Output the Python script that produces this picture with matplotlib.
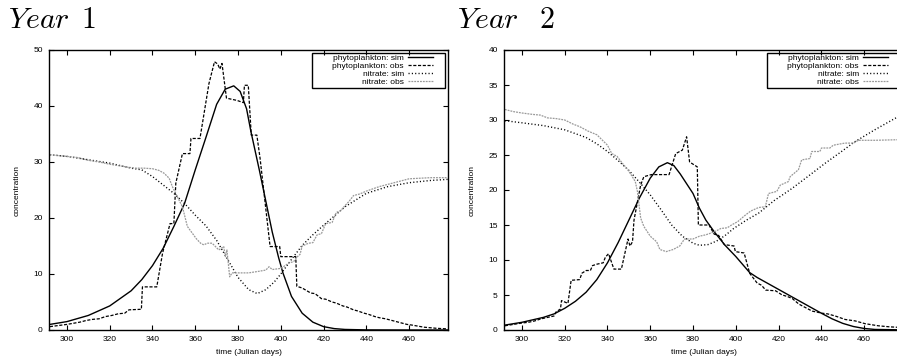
import matplotlib
matplotlib.use("Agg")
import matplotlib.pyplot as plt
from matplotlib.patches import Rectangle

plt.rcParams["font.family"] = ["Liberation Sans", "DejaVu Sans"]
plt.rcParams["mathtext.fontset"] = "cm"

# ---------------- Year 1 ----------------
p1_sim_day = [292, 300, 310, 320, 330, 335, 340, 345, 350, 355, 360, 365, 370, 374, 378,
              381, 384, 386, 390, 393, 396, 399, 401, 405, 410, 415, 420, 425, 430, 440, 460, 478]
p1_sim = [1.0, 1.5, 2.6, 4.3, 7.0, 9.0, 11.5, 14.6, 18.5, 22.6, 28.6, 34.4, 40.3, 43.0, 43.6,
          42.6, 39.5, 35.5, 28.5, 23.0, 17.5, 12.9, 10.2, 6.0, 3.0, 1.4, 0.6, 0.25, 0.1, 0.02, 0.0, 0.0]

p1_obs_day = [292, 296, 300, 303, 306, 309, 312, 315, 318, 321, 324, 327, 329, 334.8, 335.3,
              342, 344.7, 348.2, 350, 350.9, 354, 357.5, 358, 362.2, 366.4, 369, 370.5, 371.5,
              372.5, 374.6, 379.5, 382.5, 383, 384.8, 386.2, 388.8, 390.3, 395, 399.5, 400,
              407, 407.5, 410, 414, 416, 419, 421, 424, 426, 429, 431, 434, 436, 439, 441,
              444, 446, 449, 451, 454, 456, 459, 461, 464, 467, 470, 473, 478]
p1_obs = [0.6, 0.8, 1.0, 1.2, 1.4, 1.7, 1.9, 2.0, 2.4, 2.6, 2.9, 3.0, 3.6, 3.7, 7.7,
          7.7, 13.7, 19.0, 19.0, 26.2, 31.5, 31.5, 34.2, 34.2, 44.0, 47.9, 47.5, 46.6,
          47.6, 41.4, 41.0, 40.6, 43.7, 43.7, 34.8, 34.8, 30.7, 14.9, 14.9, 13.1,
          13.1, 7.8, 7.5, 6.6, 6.5, 5.6, 5.5, 5.0, 4.8, 4.3, 4.1, 3.6, 3.4, 3.0, 2.8,
          2.4, 2.2, 2.0, 1.8, 1.5, 1.3, 1.0, 0.9, 0.7, 0.5, 0.4, 0.3, 0.2]

n1_sim_day = [292, 300, 310, 320, 330, 335, 340, 345, 350, 355, 360, 365, 370, 375, 380,
              385, 389, 393, 397, 400, 405, 410, 415, 420, 430, 440, 450, 460, 470, 478]
n1_sim = [31.3, 31.0, 30.4, 29.8, 28.9, 28.6, 27.4, 25.9, 24.4, 22.6, 20.5, 18.6, 16.0, 12.7, 9.4,
          7.2, 6.5, 7.2, 8.6, 10.0, 12.6, 15.1, 17.0, 18.7, 22.0, 24.4, 25.6, 26.3, 26.7, 26.9]

n1_obs_day = [292, 300, 305, 310, 315, 320, 325, 328, 332, 336, 340, 343, 345.4, 347.8, 349.3,
              351.6, 354, 356.3, 358.6, 360.5, 362.5, 364, 365.6, 367.9, 371, 373.3, 374.1,
              374.8, 376.1, 377.2, 385, 390, 393, 394.5, 396, 400, 402, 404, 406, 407.5, 409,
              410, 413, 415, 417, 419, 421, 424, 426, 428, 430, 432, 434, 437, 440, 443, 446,
              450, 455, 460, 465, 470, 478]
n1_obs = [31.3, 31.0, 30.8, 30.3, 30.0, 29.6, 29.3, 29.1, 28.9, 28.9, 28.8, 28.5, 28.0, 27.1, 25.6,
          23.8, 22.0, 18.5, 17.3, 16.3, 15.5, 15.2, 15.5, 15.5, 14.3, 14.9, 13.1,
          14.3, 9.5, 10.2, 10.2, 10.5, 10.7, 11.3, 10.8, 11.0, 11.5, 12.0, 12.2, 13.0, 13.5,
          15.0, 15.5, 15.6, 17.0, 17.2, 19.0, 19.2, 21.0, 21.3, 22.2, 23.0, 24.0, 24.3, 24.8, 25.2, 25.6,
          26.0, 26.5, 27.0, 27.1, 27.2, 27.2]

# ---------------- Year 2 ----------------
p2_sim_day = [292, 300, 310, 315, 320, 325, 330, 335, 340, 345, 350, 355, 360, 364, 368, 371,
              374, 377, 380, 383, 386, 390, 395, 400, 406.5, 410, 420, 430, 440, 445, 450, 455,
              460, 465, 478]
p2_sim = [0.7, 1.1, 1.8, 2.3, 3.1, 4.1, 5.4, 7.2, 9.6, 12.5, 15.7, 18.9, 21.7, 23.3, 23.9, 23.5,
          22.3, 20.9, 19.5, 17.4, 15.7, 14.0, 12.1, 10.5, 8.2, 7.5, 5.8, 4.1, 2.4, 1.6, 0.95, 0.5,
          0.22, 0.08, 0.02]

p2_obs_day = [292, 296, 300, 303, 306, 309, 312, 315, 316, 318, 318.5, 320, 321.5, 323, 327,
              328, 330, 332, 333, 335, 338, 339, 340.5, 343, 346.5, 349.6, 350.5, 351.7, 352.4,
              355.5, 357, 360.5, 368.8, 371.9, 375, 377, 378.4, 382, 382.5, 387.6, 388, 389.9,
              392, 394.6, 399.2, 399.8, 403.9, 406.5, 410, 412, 414, 418.6, 421.7, 424, 426.4,
              429.5, 432.6, 435.7, 440.3, 443, 446.5, 451.2, 455.8, 460.5, 466.7, 472, 478]
p2_obs = [0.6, 0.8, 1.0, 1.1, 1.3, 1.6, 1.8, 2.0, 2.6, 3.0, 4.2, 4.0, 3.8, 7.1, 7.2,
          8.1, 8.5, 8.5, 9.2, 9.4, 9.6, 10.4, 10.9, 8.7, 8.7, 13.0, 12.0, 12.6, 15.7,
          20.7, 21.9, 22.2, 22.2, 25.2, 25.7, 27.6, 24.0, 23.3, 15.0, 15.0, 14.7, 13.7,
          13.5, 12.2, 12.0, 11.2, 11.0, 8.1, 6.7, 6.4, 5.7, 5.6, 5.0, 4.8, 4.5,
          3.7, 3.2, 2.7, 2.4, 2.3, 2.0, 1.5, 1.3, 0.9, 0.6, 0.45, 0.35]

n2_sim_day = [292, 300, 310, 320, 330, 335, 340, 345, 350, 355, 360, 365, 370, 375, 380, 383,
              387, 391, 395, 399, 405, 410.7, 418, 426.2, 434, 441.7, 449, 455.7, 465, 474.3, 478]
n2_sim = [29.9, 29.6, 29.2, 28.6, 27.5, 26.6, 25.5, 24.2, 22.8, 21.1, 19.3, 17.2, 15.0, 13.4, 12.4, 12.1,
          12.2, 12.7, 13.5, 14.5, 15.7, 16.7, 18.5, 20.2, 22.0, 23.8, 25.4, 26.9, 28.6, 30.2, 30.8]

n2_obs_day = [292, 296, 300, 305, 308.6, 312, 316, 320, 324, 327, 331, 335, 340, 342, 344.5, 347,
              349, 351, 353, 354, 355.5, 357, 360, 363, 364.5, 367.5, 370.7, 373.8, 376, 380,
              383, 386, 389.8, 393, 396, 398, 401, 404, 407, 410.7, 413.8, 415.3, 419.2, 420.8,
              424.6, 425.4, 429.3, 430.8, 434.7, 435.5, 439.3, 440.1, 444, 445.6, 451, 455,
              457.3, 465, 478]
n2_obs = [31.5, 31.2, 31.0, 30.8, 30.7, 30.3, 30.2, 30.0, 29.4, 29.05, 28.4, 27.9, 26.4, 25.2, 24.8, 23.8,
          23.1, 22.2, 21.2, 19.8, 16.0, 14.8, 13.4, 12.6, 11.5, 11.2, 11.5, 12.0, 13.0, 13.0,
          13.4, 13.6, 14.0, 14.5, 14.6, 15.0, 15.5, 16.3, 17.0, 17.5, 17.6, 19.5, 19.8, 20.7,
          21.2, 21.9, 22.9, 24.3, 24.5, 25.5, 25.5, 26.0, 26.0, 26.4, 26.7, 26.7,
          27.1, 27.1, 27.2]

labels = ["phytoplankton: sim", "phytoplankton: obs", "nitrate: sim", "nitrate: obs"]
x_ticks = [300, 320, 340, 360, 380, 400, 420, 440, 460]


def draw_panel(ax, series, ymax, ystep):
    (ps_d, ps), (po_d, po), (ns_d, ns), (no_d, no) = series
    ax.plot(ps_d, ps, color="black", lw=1.0, label=labels[0])
    ax.plot(po_d, po, color="black", lw=0.9, dashes=(2.5, 1.3), label=labels[1])
    ax.plot(ns_d, ns, color="black", lw=1.0, dashes=(0.8, 1.6), label=labels[2])
    ax.plot(no_d, no, color="#999999", lw=0.9, dashes=(1.5, 0.8), label=labels[3])

    ax.set_xlim(291.6, 478.2)
    ax.set_ylim(0, ymax)
    ax.set_xticks(x_ticks)
    ax.set_yticks(range(0, ymax + 1, ystep))
    ax.tick_params(direction="in", top=True, right=True, length=3.5, width=0.8,
                   labelsize=6, pad=4.5)
    for sp in ax.spines.values():
        sp.set_linewidth(1.0)
    ax.set_xlabel("time (Julian days)", fontsize=6, labelpad=4.5)
    ax.set_ylabel("concentration", fontsize=6, labelpad=9)

    # gnuplot-style key: right-aligned labels, samples on the right, wide box
    ax.legend(loc="upper right", bbox_to_anchor=(0.9625, 0.984), fontsize=6,
              markerfirst=False, frameon=False, handlelength=3.0,
              handletextpad=0.5, labelspacing=0.0, borderpad=0.0,
              borderaxespad=0.0)
    ax.add_patch(Rectangle((0.659, 0.864), 0.3335, 0.125, transform=ax.transAxes,
                           facecolor="none", edgecolor="black", lw=1.0, zorder=5))


fig = plt.figure(figsize=(8.97, 3.6), dpi=100)
ax1 = fig.add_axes([49 / 897, 30 / 360, 399 / 897, 280 / 360])
ax2 = fig.add_axes([504 / 897, 30 / 360, 399 / 897, 280 / 360])

draw_panel(ax1, [(p1_sim_day, p1_sim), (p1_obs_day, p1_obs),
                 (n1_sim_day, n1_sim), (n1_obs_day, n1_obs)], 50, 10)
draw_panel(ax2, [(p2_sim_day, p2_sim), (p2_obs_day, p2_obs),
                 (n2_sim_day, n2_sim), (n2_obs_day, n2_obs)], 40, 5)

fig.text(8 / 897, 1 - 28 / 360, r"$Year$", fontsize=21.5, va="baseline")
fig.text(81 / 897, 1 - 28 / 360, r"$1$", fontsize=21.5, va="baseline")
fig.text(457 / 897, 1 - 28 / 360, r"$Year$", fontsize=21.5, va="baseline")
fig.text(539 / 897, 1 - 28 / 360, r"$2$", fontsize=21.5, va="baseline")

fig.savefig("out.png", dpi=100)
